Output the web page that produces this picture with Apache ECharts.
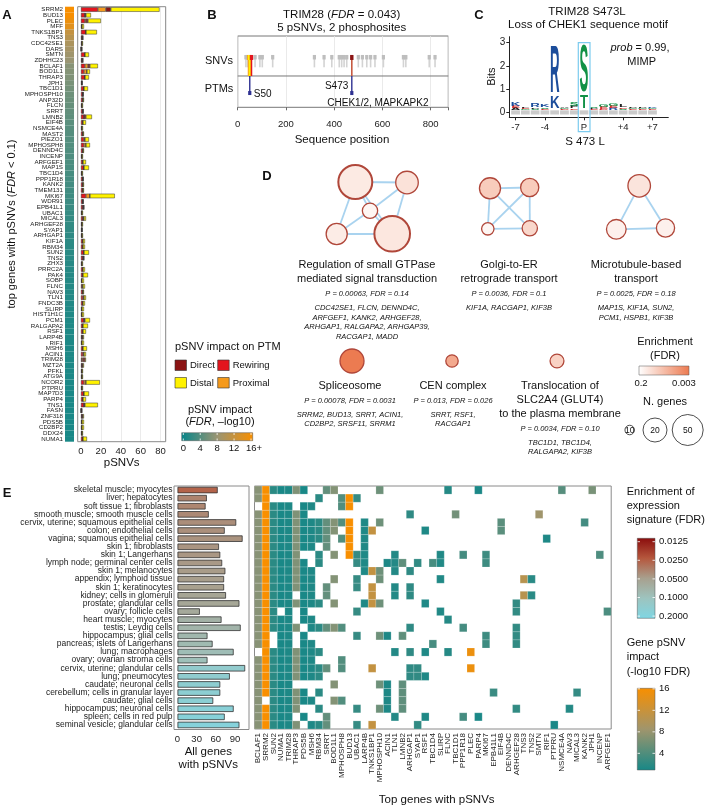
<!DOCTYPE html>
<html>
<head>
<meta charset="utf-8">
<script src="https://cdn.jsdelivr.net/npm/echarts@6/dist/echarts.min.js"></script>
<style>html,body{margin:0;padding:0;background:#fff}#chart{width:708px;height:809px}</style>
</head>
<body>
<div id="chart"></div>
<script>
const FONT = '"Liberation Sans", Arial, sans-serif';

// ---- panel A: top genes with pSNVs
const aGenes = ['SRRM2','BUD13','PLEC','MFF','TNKS1BP1','TNS3','CDC42SE1','DARS','SMTN','ZDHHC23','BCLAF1','BOD1L1','THRAP3','JPH1','TBC1D1','MPHOSPH10','ANP32D','FLCN','SRRT','LMNB2','EIF4B','NSMCE4A','MAST2','PIEZO1','MPHOSPH8','DENND4C','INCENP','ARFGEF1','MAP1S','TBC1D4','PPP1R18','KANK2','TMEM131','MKI67','WDR91','EPB41L1','UBAC1','MICAL3','ARHGEF28','SYAP1','ARHGAP1','KIF1A','RBM34','SUN2','TNS2','ZHX3','PRRC2A','PAK4','SOBP','FLNC','NAV3','TLN1','FNDC3B','SLIRP','HIST1H1C','PCM1','RALGAPA2','RSF1','LARP4B','RIF1','MSH6','ACIN1','TRIM28','MZT2A','PFKL','ATG9A','NCOR2','PTPRU','MAP7D3','PARP4','TNS1','FASN','ZNF318','PDS5B','CD2BP2','DDX24','NUMA1'];
const aRewiring = [17,4,4,1,5,1,1,0,4,1, 4,3,4,1,3,2,2,1,2,3, 2,1,2,3,3,2,1,2,3,1, 2,2,2,5,2,2,1,2,1,1, 1,2,2,3,2,1,2,2,1,1, 2,2,2,1,1,3,2,2,1,1, 2,2,1,1,1,1,3,1,3,2, 3,0,1,1,1,1,2];
const aProximal = [8,0,1,0,0,0,0,0,0,0, 3,3,0,0,0,0,0,0,0,0, 0,0,0,1,2,0,0,0,0,0, 0,0,0,4,0,0,0,0,0,0, 0,0,0,0,0,0,0,0,0,1, 0,1,0,0,0,0,0,0,0,0, 0,1,1,0,0,0,2,0,0,0, 0,0,0,0,0,0,0];
const aDirect = [5,1,2,0,0,1,0,1,0,1, 2,0,0,0,0,0,0,0,0,2, 0,0,0,0,0,0,0,0,0,0, 0,0,0,0,0,1,0,1,0,0, 0,0,0,0,1,0,0,0,0,0, 0,0,0,0,0,1,0,0,1,0, 0,0,2,1,0,0,0,0,0,0, 1,1,1,0,0,0,0];
const aDistal = [49,5,13,2,11,0,1,0,4,0, 8,3,4,0,4,0,1,1,0,6, 3,1,1,4,4,1,1,3,5,1, 0,1,1,25,0,0,1,2,1,0, 1,2,2,5,0,1,2,5,2,2, 1,2,2,2,2,5,5,3,1,2, 4,2,1,1,1,1,14,1,5,3, 13,0,1,2,2,1,4];
const aImpact = [16,16,15,14,11.5,10.5,9.5,9,8.5,8, 7,6.8,6.6,6.2,5.9,5.6,5.4,5.2,5,4.8, 4.6,4.4,4.3,4.2,4.1,4,3.9,3.8,3.6,3.5, 3.4,3.3,3.2,3,2.9,2.8,2.6,2.5,2.4,2.3, 2.2,2.1,2,1.95,1.9,1.85,1.8,1.75,1.7,1.65, 1.6,1.55,1.5,1.48,1.45,1.42,1.4,1.37,1.35,1.32, 1.3,1.28,1.26,1.24,1.22,1.2,1.18,1.16,1.14,1.12, 1.1,1.08,1.06,1.05,1.04,1.02,1];
const aTicks = [0, 20, 40, 60, 80];
const impactTicks = [0, 4, 8, 12, 16];

// ---- panel B: TRIM28 lollipop
const snvPos = [34,41,72,92,102,145,318,358,390,421,431,441,452,500,517,535,551,569,604,687,697,794,818];
const psnvPos = [45, 49, 52, 57, 473];
const psnvType = ['Proximal','Distal','Distal','Rewiring','Direct'];
const ptmPos = [50, 473];
const ptmSite = ['S50', 'S473'];
const ptmKinase = ['', 'CHEK1/2, MAPKAPK2'];

// ---- panel C: sequence logo [position, letter, bits low, bits high]
const logoData = [
  [-7,'A',0.08,0.16],[-7,'E',0.16,0.26],[-7,'K',0.26,0.40],
  [-6,'G',0.08,0.14],[-6,'E',0.14,0.19],[-6,'L',0.19,0.24],
  [-5,'S',0.08,0.15],[-5,'P',0.15,0.22],[-5,'R',0.22,0.40],
  [-4,'E',0.08,0.14],[-4,'S',0.14,0.20],[-4,'K',0.20,0.28],
  [-3,'K',0.10,0.62],[-3,'R',0.62,2.72],
  [-2,'D',0.08,0.13],[-2,'G',0.13,0.18],[-2,'A',0.18,0.23],
  [-1,'E',0.08,0.15],[-1,'P',0.15,0.25],[-1,'S',0.25,0.40],
  [0,'T',0.10,0.67],[0,'S',0.67,2.72],
  [1,'E',0.08,0.13],[1,'P',0.13,0.18],[1,'S',0.18,0.24],
  [2,'D',0.08,0.14],[2,'E',0.14,0.22],[2,'G',0.22,0.35],
  [3,'R',0.08,0.16],[3,'E',0.16,0.26],[3,'G',0.26,0.38],
  [4,'S',0.08,0.14],[4,'E',0.14,0.20],[4,'L',0.20,0.28],
  [5,'E',0.08,0.13],[5,'G',0.13,0.18],[5,'P',0.18,0.23],
  [6,'E',0.08,0.12],[6,'G',0.12,0.16],[6,'P',0.16,0.20],
  [7,'E',0.08,0.13],[7,'G',0.13,0.18],[7,'K',0.18,0.23]
];
const logoPositions = [-7,-6,-5,-4,-3,-2,-1,0,1,2,3,4,5,6,7];
const logoTickValues = [-7, -4, 0, 4, 7];
const bitsTicks = [0, 1, 2, 3];

// ---- panel D: enrichment networks
const nodeX = [355.3, 407, 370, 336.7, 392.2, 490, 529.7, 487.8, 529.8, 639.2, 616.3, 665.5, 352, 452, 557];
const nodeY = [182, 182.5, 210.8, 234, 233.8, 188.3, 187.5, 228.8, 228.3, 185.8, 229.3, 228, 361, 361, 361];
const nodeGenes = [71, 19, 14, 18, 83, 18, 16, 12, 14, 19, 17, 16, 20, 12, 13];
const nodeFdr = [0.164, 0.143, 0.19, 0.17, 0.157, 0.086, 0.086, 0.19, 0.114, 0.15, 0.18, 0.18, 0.0031, 0.026, 0.10];
const nodeLinks = [[0,1],[0,2],[0,3],[0,4],[1,2],[1,4],[2,3],[2,4],[3,4],[5,6],[5,7],[5,8],[6,7],[6,8],[7,8],[9,10],[9,11],[10,11]];
const sizeLegend = [10, 20, 50];

// ---- panel E: tissues x genes
const eTissues = ['skeletal muscle; myocytes','liver; hepatocytes','soft tissue 1; fibroblasts','smooth muscle; smooth muscle cells','cervix, uterine; squamous epithelial cells','colon; endothelial cells','vagina; squamous epithelial cells','skin 1; fibroblasts','skin 1; Langerhans','lymph node; germinal center cells','skin 1; melanocytes','appendix; lymphoid tissue','skin 1; keratinocytes','kidney; cells in glomeruli','prostate; glandular cells','ovary; follicle cells','heart muscle; myocytes','testis; Leydig cells','hippocampus; glial cells','pancreas; islets of Langerhans','lung; macrophages','ovary; ovarian stroma cells','cervix, uterine; glandular cells','lung; pneumocytes','caudate; neuronal cells','cerebellum; cells in granular layer','caudate; glial cells','hippocampus; neuronal cells','spleen; cells in red pulp','seminal vesicle; glandular cells'];
const eAllGenes = [63,46,44,49,92,74,102,65,67,70,75,73,73,76,97,35,69,99,47,55,88,47,106,82,67,67,56,88,74,97];
const eFdr = [0.028,0.038,0.039,0.04,0.042,0.043,0.044,0.045,0.046,0.047,0.048,0.049,0.05,0.055,0.057,0.06,0.07,0.074,0.078,0.082,0.088,0.092,0.13,0.135,0.14,0.145,0.15,0.16,0.165,0.17];
const eTicks = [0, 30, 60, 90];
const heatGenes = ['BCLAF1','SRRM2','SUN2','NUMA1','TRIM28','THRAP3','PDS5B','MSH6','RBM34','SRRT','BOD1L1','MPHOSPH8','BUD13','UBAC1','LARP4B','TNKS1BP1','MPHOSPH10','ACIN1','TLN1','LMNB2','ARHGAP1','SYAP1','RSF1','TBC1D4','SLIRP','FLNC','TBC1D1','PPP1R18','PLEC','PARP4','MKI67','EPB41L1','EIF4B','DENND4C','ARHGEF28','TNS3','TNS2','SMTN','RIF1','PTPRU','NSMCE4A','NAV3','MICAL3','KANK2','JPH1','INCENP','ARFGEF1'];
const heatHits = [
  [0,1,2,3,4,5,6,9,10,16,25,29,40,44],
  [0,1,8,11,12,13],
  [1,2,3,4,6,7,11,12],
  [0,1,2,3,4,5,6,20,26,37],
  [0,1,2,3,4,5,6,7,8,9,10,11,12,14,16,32,43],
  [0,1,2,3,4,5,6,7,8,9,10,12,14,15,22,32],
  [0,1,2,3,4,5,6,7,8,9,11,12,14,38],
  [0,1,2,3,4,5,6,7,9,12,14],
  [0,1,2,3,4,5,8,10,12,13,14,18,24,27,30,45],
  [0,1,2,3,4,5,6,8,13,14,17,18,19,21,23,24,30],
  [0,1,2,3,4,5,6,7,14,15,16,18,20],
  [0,1,2,3,4,5,6,7,10,13,16,24,35,36],
  [0,1,2,3,4,5,6,7,9,13,15,18,20],
  [0,1,2,3,4,6,7,9,15,18,20,35,36],
  [0,1,2,3,4,5,6,7,8,10,14,15,16,22,34],
  [0,1,2,4,6,13,24,34,46],
  [0,1,2,3,4,6,7,25],
  [0,1,2,3,4,5,7,8,9,10,11,20,27,34],
  [0,1,3,4,6,13,16,17,19,30,34],
  [0,1,3,4,6,7,23,30,34],
  [1,2,3,4,5,6,7,8,18,20,22,25,28],
  [0,1,2,3,4,5,6,7,11],
  [0,1,2,3,4,5,6,7,8,9,11,15,20,21,28],
  [0,1,2,3,4,5,6,7,8,20,21,22],
  [0,1,2,3,4,10,16,17,19],
  [0,1,2,3,4,5,6,8,17,19,31,42],
  [0,2,3,4,5,6,7,10,11,17,19],
  [0,1,2,3,4,5,8,13,16,17,19,34,41],
  [0,1,2,3,4,6,9,18,22,27,29],
  [0,1,2,3,4,5,7,8,9,13,15,21,39]
];
const enrichTicks = [0.0125, 0.025, 0.05, 0.1, 0.2];
const impactLegendTicks = [4, 8, 12, 16];

// ---- colours
const ptmColor = { Direct: '#8B1414', Rewiring: '#E3151D', Distal: '#FFF200', Proximal: '#F59A1C' };
function hex(h) { return [1, 3, 5].map(i => parseInt(h.substr(i, 2), 16)); }
function ramp(stops, t) {
  t = Math.max(0, Math.min(1, t));
  for (let i = 1; i < stops.length; i++) {
    if (t <= stops[i][0]) {
      const a = stops[i - 1], b = stops[i];
      const f = (t - a[0]) / (b[0] - a[0]);
      const ca = hex(a[1]), cb = hex(b[1]);
      return 'rgb(' + ca.map((v, k) => Math.round(v + (cb[k] - v) * f)).join(',') + ')';
    }
  }
  return stops[stops.length - 1][1];
}
const impactStops = [[0, '#06868A'], [0.5, '#9A9573'], [1, '#F88F00']];
const impactColor = v => ramp(impactStops, v / 16);
const enrichStops = [[0, '#8B0D0D'], [0.25, '#B5573D'], [0.5, '#A8A08E'], [0.75, '#9DC4BF'], [1, '#7FD6E3']];
const enrichColor = f => ramp(enrichStops, Math.log2(f / 0.0125) / 4);
const termColor = f => ramp([[0, '#FFFFFF'], [1, '#EC7A50']], Math.pow(Math.max(0, Math.log(0.2 / f) / Math.log(0.2 / 0.003)), 0.6));
function nodeDiam(n) {
  const pts = [[10, 9.5], [20, 24], [50, 31], [100, 38]];
  for (let i = 1; i < pts.length; i++) {
    if (n <= pts[i][0]) {
      const a = pts[i - 1], b = pts[i];
      return a[1] + (b[1] - a[1]) * (n - a[0]) / (b[0] - a[0]);
    }
  }
  return 38;
}
const logoColor = l => 'KRH'.includes(l) ? '#1C4D9B' : 'DE'.includes(l) ? '#D62E2E' : 'STGYCNQ'.includes(l) ? '#119146' : '#222';

// ---- graphic helpers
function tx(x, y, text, size, o) {
  o = o || {};
  const st = {
    text: text, fontSize: size, fontFamily: FONT,
    fontWeight: o.bold ? 'bold' : 'normal', fontStyle: o.italic ? 'italic' : 'normal',
    fill: o.color || '#111',
    align: o.align || 'center', textAlign: o.align || 'center',
    verticalAlign: 'middle', textVerticalAlign: 'middle'
  };
  if (o.rich) st.rich = o.rich;
  return { type: 'text', x: x, y: y, rotation: o.rot || 0, silent: true, z: 10, style: st };
}
function richIt(size) {
  return { n: { fontSize: size, fontFamily: FONT, fill: '#111' }, i: { fontSize: size, fontFamily: FONT, fontStyle: 'italic', fill: '#111' } };
}
function box(x, y, w, h, fill, stroke, lw) {
  return { type: 'rect', shape: { x: x, y: y, width: w, height: h }, silent: true, z: 1,
    style: { fill: fill || 'none', stroke: stroke || 'none', lineWidth: lw || 1 } };
}
function gradRect(x, y, w, h, stops, vertical) {
  return { type: 'rect', shape: { x: x, y: y, width: w, height: h }, silent: true, z: 5,
    style: { stroke: '#555', lineWidth: 0.5,
      fill: new echarts.graphic.LinearGradient(0, vertical ? 1 : 0, vertical ? 0 : 1, 0,
        stops.map(s => ({ offset: s[0], color: s[1] }))) } };
}
function whiteTicks(list, xs, ys, horizontal) {
  list.forEach(p => {
    if (horizontal) {
      graphics.push({ type: 'line', silent: true, z: 6, shape: { x1: p, y1: ys[0], x2: p, y2: ys[0] + 2 }, style: { stroke: '#fff', lineWidth: 0.8 } });
      graphics.push({ type: 'line', silent: true, z: 6, shape: { x1: p, y1: ys[1] - 2, x2: p, y2: ys[1] }, style: { stroke: '#fff', lineWidth: 0.8 } });
    } else {
      graphics.push({ type: 'line', silent: true, z: 6, shape: { x1: xs[0], y1: p, x2: xs[0] + 2.5, y2: p }, style: { stroke: '#fff', lineWidth: 0.8 } });
      graphics.push({ type: 'line', silent: true, z: 6, shape: { x1: xs[1] - 2.5, y1: p, x2: xs[1], y2: p }, style: { stroke: '#fff', lineWidth: 0.8 } });
    }
  });
}

const graphics = [];
// panel letters
[['A', 7, 15], ['B', 212, 15], ['C', 479, 15], ['D', 267, 176], ['E', 7, 493]].forEach(p => graphics.push(tx(p[1], p[2], p[0], 13, { bold: true })));

// A
graphics.push(box(77.7, 6.7, 88, 435, 'none', '#8A8A8A', 1));
graphics.push(tx(12, 224, '{n|top genes with pSNVs (}{i|FDR}{n| < 0.1)}', 11, { rot: Math.PI / 2, rich: richIt(11) }));
graphics.push(tx(121.7, 463, 'pSNVs', 11.5));
graphics.push(tx(175, 347, 'pSNV impact on PTM', 11, { align: 'left' }));
[['Direct', 175, 360], ['Rewiring', 217.7, 360], ['Distal', 175, 377.5], ['Proximal', 217.7, 377.5]].forEach(l => {
  graphics.push(box(l[1], l[2], 11.5, 10.5, ptmColor[l[0]], '#333', 0.6));
  graphics.push(tx(l[1] + 15, l[2] + 5.5, l[0], 9.5, { align: 'left' }));
});
graphics.push(tx(220, 410, 'pSNV impact', 11));
graphics.push(tx(220, 422, '{n|(}{i|FDR}{n|, \u2013log10)}', 11, { rich: richIt(11) }));
graphics.push(gradRect(181.7, 432.7, 71, 8, impactStops, false));
const impTickX = impactTicks.map(v => 183.3 + v / 16 * 67.7);
whiteTicks(impTickX, null, [433, 440.5], true);
impactTicks.forEach((v, i) => graphics.push(tx(impTickX[i] + (v === 16 ? 3 : 0), 448, v === 16 ? '16+' : String(v), 9.5)));

// B
graphics.push(tx(341.7, 15, '{n|TRIM28 (}{i|FDR}{n| = 0.043)}', 11.5, { rich: richIt(11.5) }));
graphics.push(tx(341.7, 28.3, '5 pSNVs, 2 phosphosites', 11.5));
graphics.push(tx(219, 61, 'SNVs', 11));
graphics.push(tx(219, 89.3, 'PTMs', 11));
graphics.push(tx(342, 140, 'Sequence position', 11.5));

// C
graphics.push(tx(587, 11.7, 'TRIM28 S473L', 11.5));
graphics.push(tx(588, 25, 'Loss of CHEK1 sequence motif', 11.5));
graphics.push(tx(491.7, 76.7, 'Bits', 11, { rot: Math.PI / 2 }));
graphics.push(tx(640, 48.3, '{i|prob}{n| = 0.99,}', 11, { rich: richIt(11) }));
graphics.push(tx(641.7, 61.7, 'MIMP', 11));
graphics.push(tx(585, 141.7, 'S 473 L', 11.5));
graphics.push(Object.assign(box(578.3, 42.7, 11.7, 89, 'none', '#7CCBEF', 1.2), { z: 20 }));

// D
const dTexts = [
  [367, ['Regulation of small GTPase', 'mediated signal transduction'], 'P = 0.00063, FDR = 0.14', ['CDC42SE1, FLCN, DENND4C,', 'ARFGEF1, KANK2, ARHGEF28,', 'ARHGAP1, RALGAPA2, ARHGAP39,', 'RACGAP1, MADD']],
  [509, ['Golgi-to-ER', 'retrograde transport'], 'P = 0.0036, FDR = 0.1', ['KIF1A, RACGAP1, KIF3B']],
  [636, ['Microtubule-based', 'transport'], 'P = 0.0025, FDR = 0.18', ['MAP1S, KIF1A, SUN2,', 'PCM1, HSPB1, KIF3B']]
];
dTexts.forEach(d => {
  graphics.push(tx(d[0], 265, d[1][0], 11));
  graphics.push(tx(d[0], 279, d[1][1], 11));
  graphics.push(tx(d[0], 294, d[2], 7.5, { italic: true }));
  d[3].forEach((g, i) => graphics.push(tx(d[0], 308 + i * 9.6, g, 7.5, { italic: true })));
});
graphics.push(tx(350, 386, 'Spliceosome', 11));
graphics.push(tx(350, 400.7, 'P = 0.00078, FDR = 0.0031', 7.5, { italic: true }));
graphics.push(tx(350, 415, 'SRRM2, BUD13, SRRT, ACIN1,', 7.5, { italic: true }));
graphics.push(tx(350, 424.3, 'CD2BP2, SRSF11, SRRM1', 7.5, { italic: true }));
graphics.push(tx(453, 386, 'CEN complex', 11));
graphics.push(tx(453, 400.7, 'P = 0.013, FDR = 0.026', 7.5, { italic: true }));
graphics.push(tx(453, 415, 'SRRT, RSF1,', 7.5, { italic: true }));
graphics.push(tx(453, 424.3, 'RACGAP1', 7.5, { italic: true }));
graphics.push(tx(560, 386, 'Translocation of', 11));
graphics.push(tx(560, 400, 'SLC2A4 (GLUT4)', 11));
graphics.push(tx(560, 414, 'to the plasma membrane', 11));
graphics.push(tx(560, 429, 'P = 0.0034, FDR = 0.10', 7.5, { italic: true }));
graphics.push(tx(560, 442.7, 'TBC1D1, TBC1D4,', 7.5, { italic: true }));
graphics.push(tx(560, 452, 'RALGAPA2, KIF3B', 7.5, { italic: true }));
graphics.push(tx(665, 342, 'Enrichment', 11));
graphics.push(tx(665, 356, '(FDR)', 11));
graphics.push(gradRect(639, 366, 50, 9, [[0, '#FFFFFF'], [1, '#EC7A50']], false));
graphics.push(tx(641, 383.5, '0.2', 9.5));
graphics.push(tx(684, 383.5, '0.003', 9.5));
graphics.push(tx(665, 402, 'N. genes', 11));
const sizeLegendX = [629.7, 655, 687.7];
sizeLegend.forEach((n, i) => {
  graphics.push({ type: 'circle', silent: true, z: 5, shape: { cx: sizeLegendX[i], cy: 430, r: nodeDiam(n) / 2 }, style: { fill: '#fff', stroke: '#222', lineWidth: 0.8 } });
  graphics.push(tx(sizeLegendX[i], 430.5, String(n), 8.5));
});

// E
graphics.push(box(174, 486, 75, 243.5, 'none', '#8A8A8A', 1));
graphics.push(tx(208.3, 752.3, 'All genes', 11.5));
graphics.push(tx(208.3, 765, 'with pSNVs', 11.5));
graphics.push(tx(436.7, 800, 'Top genes with pSNVs', 11.5));
graphics.push(tx(626.7, 491.7, 'Enrichment of', 11, { align: 'left' }));
graphics.push(tx(626.7, 506, 'expression', 11, { align: 'left' }));
graphics.push(tx(626.7, 520, 'signature (FDR)', 11, { align: 'left' }));
graphics.push(gradRect(637.3, 538.3, 17.7, 80, enrichStops.map(s => [1 - s[0], s[1]]).reverse(), true));
const enrichTickY = enrichTicks.map((f, i) => 541.7 + Math.log2(f / 0.0125) * 18.6);
whiteTicks(enrichTickY, [637.5, 655], null, false);
enrichTicks.forEach((f, i) => graphics.push(tx(659, enrichTickY[i], f.toFixed(4), 9.5, { align: 'left' })));
graphics.push(tx(626.7, 643.3, 'Gene pSNV', 11, { align: 'left' }));
graphics.push(tx(626.7, 657.3, 'impact', 11, { align: 'left' }));
graphics.push(tx(626.7, 671.7, '(-log10 FDR)', 11, { align: 'left' }));
const impLo = 0.9, impHi = 16.1;
graphics.push(gradRect(637.3, 688.3, 17.7, 81.7, [[0, impactColor(impLo)], [0.5, impactColor((impLo + impHi) / 2)], [1, impactColor(impHi)]], true));
const impLegY = impactLegendTicks.map(v => 770 - (v - impLo) / (impHi - impLo) * 81.7);
whiteTicks(impLegY, [637.5, 655], null, false);
impactLegendTicks.forEach((v, i) => graphics.push(tx(659, impLegY[i], String(v), 9.5, { align: 'left' })));

// ---- series data
const heatData = [];
heatHits.forEach((cols, r) => cols.forEach(c => heatData.push([c, r, aImpact[aGenes.indexOf(heatGenes[c])]])));

const labelStyle = { fontFamily: FONT, color: '#222' };
const tickStyle = { lineStyle: { color: '#444', width: 0.8 } };

const option = {
  animation: false,
  backgroundColor: '#fff',
  textStyle: { fontFamily: FONT },
  grid: [
    { left: 65, width: 9, top: 6.7, height: 435 },
    { left: 81, width: 84.7, top: 6.7, height: 435 },
    { left: 237.7, width: 210.6, top: 36, height: 71.3, show: true, borderColor: '#777', borderWidth: 1 },
    { left: 509.3, width: 159, top: 36.7, height: 80.6 },
    { left: 177.5, width: 71.5, top: 486, height: 243 },
    { left: 254.5, width: 356.7, top: 486, height: 243, show: true, borderColor: '#8A8A8A', borderWidth: 1 },
    { left: 0, width: 708, top: 0, height: 809 }
  ],
  xAxis: [
    { gridIndex: 0, type: 'value', min: 0, max: 1, show: false },
    { gridIndex: 1, type: 'value', min: 0, max: 85.2, interval: 20,
      axisLine: { show: false }, axisTick: Object.assign({ length: 3 }, tickStyle),
      axisLabel: Object.assign({ fontSize: 9.5, margin: 5, formatter: v => aTicks.includes(v) ? String(v) : '' }, labelStyle),
      splitLine: { show: true, lineStyle: { color: '#E6E6E6', width: 0.8 } } },
    { gridIndex: 2, type: 'value', min: 0, max: 873, interval: 200,
      axisLine: { show: false }, axisTick: Object.assign({ length: 3 }, tickStyle),
      axisLabel: Object.assign({ fontSize: 9.5, margin: 12, formatter: v => v % 200 === 0 ? String(v) : '' }, labelStyle),
      splitLine: { show: true, lineStyle: { color: '#E4E4E4', width: 0.8 } } },
    { gridIndex: 3, type: 'value', min: -7.64, max: 8.62,
      axisLine: { show: true, onZero: false, lineStyle: { color: '#222', width: 1 } },
      axisTick: { show: true, length: 3, customValues: logoTickValues, lineStyle: { color: '#222' } },
      axisLabel: Object.assign({ fontSize: 9.5, margin: 5, customValues: logoTickValues, formatter: v => v === 0 ? 'P' : (v > 0 ? '+' + v : String(v)) }, labelStyle),
      splitLine: { show: false } },
    { gridIndex: 4, type: 'value', min: 0, max: 112, interval: 30,
      axisLine: { show: false }, axisTick: Object.assign({ length: 3 }, tickStyle),
      axisLabel: Object.assign({ fontSize: 9.5, margin: 5, formatter: v => eTicks.includes(v) ? String(v) : '' }, labelStyle),
      splitLine: { show: false } },
    { gridIndex: 5, type: 'category', data: heatGenes, boundaryGap: true,
      axisLine: { show: false }, axisTick: Object.assign({ length: 3, alignWithLabel: true, interval: 0 }, tickStyle),
      axisLabel: Object.assign({ fontSize: 8, rotate: 90, interval: 0, margin: 4 }, labelStyle) },
    { gridIndex: 6, type: 'value', min: 0, max: 708, show: false }
  ],
  yAxis: [
    { gridIndex: 0, type: 'category', data: aGenes, inverse: true,
      axisLine: { show: false }, axisTick: { show: false },
      axisLabel: Object.assign({ fontSize: 6.2, interval: 0, margin: 2 }, labelStyle) },
    { gridIndex: 1, type: 'category', data: aGenes, inverse: true, show: false },
    { gridIndex: 2, type: 'value', min: 0, max: 1, show: false },
    { gridIndex: 3, type: 'value', min: -0.22, max: 3.26,
      axisLine: { show: true, onZero: false, lineStyle: { color: '#222', width: 1 } },
      axisTick: { show: true, length: 3, customValues: bitsTicks, lineStyle: { color: '#222' } },
      axisLabel: Object.assign({ fontSize: 10, margin: 4, customValues: bitsTicks }, labelStyle),
      splitLine: { show: false } },
    { gridIndex: 4, type: 'category', data: eTissues, inverse: true,
      axisLine: { show: false }, axisTick: Object.assign({ length: 3, alignWithLabel: true, interval: 0 }, tickStyle),
      axisLabel: Object.assign({ fontSize: 8.5, interval: 0, margin: 5 }, labelStyle) },
    { gridIndex: 5, type: 'category', data: eTissues, inverse: true,
      axisLine: { show: false }, axisTick: Object.assign({ length: 3, alignWithLabel: true, interval: 0 }, tickStyle),
      axisLabel: { show: false } },
    { gridIndex: 6, type: 'value', min: 0, max: 809, inverse: true, show: false }
  ],
  graphic: { elements: graphics },
  series: [
    // A colour strip
    { type: 'bar', xAxisIndex: 0, yAxisIndex: 0, barWidth: '100%', silent: true,
      data: aImpact.map(v => ({ value: 1, itemStyle: { color: impactColor(v) } })) },
    // A stacked bars
    ...[['Rewiring', aRewiring], ['Proximal', aProximal], ['Direct', aDirect], ['Distal', aDistal]].map(s => ({
      type: 'bar', name: s[0], stack: 'ptm', xAxisIndex: 1, yAxisIndex: 1, barWidth: '80%', silent: true,
      itemStyle: { color: ptmColor[s[0]], borderColor: '#333', borderWidth: 0.5 },
      data: s[1]
    })),
    // B divider
    { type: 'line', xAxisIndex: 2, yAxisIndex: 2, silent: true, symbol: 'none',
      lineStyle: { color: '#777', width: 1 }, data: [[0, 0.439], [873, 0.439]] },
    // B SNVs
    { type: 'custom', xAxisIndex: 2, yAxisIndex: 2, silent: true,
      data: snvPos.map(p => [p, 0.72]),
      renderItem: (params, api) => {
        const t = api.coord([api.value(0), 0.72]), b = api.coord([api.value(0), 0.56]);
        return { type: 'group', children: [
          { type: 'line', shape: { x1: t[0], y1: t[1], x2: b[0], y2: b[1] }, style: { stroke: '#D3D3D3', lineWidth: 1.6 } },
          { type: 'rect', shape: { x: t[0] - 1.6, y: t[1] - 1, width: 3.2, height: 4.5 }, style: { fill: '#BEBEBE' } }
        ] };
      } },
    // B pSNVs
    { type: 'custom', xAxisIndex: 2, yAxisIndex: 2, silent: true, z: 4,
      data: psnvPos.map(p => [p, 0.72]),
      renderItem: (params, api) => {
        const c = ptmColor[psnvType[params.dataIndex]];
        const t = api.coord([api.value(0), 0.72]), b = api.coord([api.value(0), 0.439]);
        return { type: 'group', children: [
          { type: 'line', shape: { x1: t[0], y1: t[1], x2: b[0], y2: b[1] }, style: { stroke: psnvType[params.dataIndex] === 'Direct' ? '#C65A42' : c, lineWidth: 1.6 } },
          { type: 'rect', shape: { x: t[0] - 1.7, y: t[1] - 1, width: 3.4, height: 5 }, style: { fill: c } }
        ] };
      } },
    // B PTM sites
    { type: 'custom', xAxisIndex: 2, yAxisIndex: 2, silent: true, z: 5,
      data: ptmPos.map(p => [p, 0.2]),
      renderItem: (params, api) => {
        const i = params.dataIndex;
        const t = api.coord([api.value(0), 0.439]), b = api.coord([api.value(0), 0.2]);
        const left = ptmKinase[i] !== '';
        const ch = [
          { type: 'line', shape: { x1: t[0], y1: t[1], x2: b[0], y2: b[1] }, style: { stroke: '#2E3192', lineWidth: 1.4 } },
          { type: 'rect', shape: { x: b[0] - 1.6, y: b[1] - 2, width: 3.2, height: 4 }, style: { fill: '#2E3192' } },
          { type: 'text', x: left ? b[0] - 3.5 : b[0] + 4, y: left ? b[1] - 7 : b[1] + 1.2,
            style: { text: ptmSite[i], fontSize: 10, fontFamily: FONT, fill: '#111', align: left ? 'right' : 'left', textAlign: left ? 'right' : 'left', verticalAlign: 'middle', textVerticalAlign: 'middle' } }
        ];
        if (left) ch.push({ type: 'text', x: b[0] - 24.5, y: b[1] + 10.7,
          style: { text: ptmKinase[i], fontSize: 10, fontFamily: FONT, fill: '#111', align: 'left', textAlign: 'left', verticalAlign: 'middle', textVerticalAlign: 'middle' } });
        return { type: 'group', children: ch };
      } },
    // C grey base per position
    { type: 'custom', xAxisIndex: 3, yAxisIndex: 3, silent: true,
      data: logoPositions.map(p => [p, 0]),
      renderItem: (params, api) => {
        const a = api.coord([api.value(0) - 0.45, 0.08]), b = api.coord([api.value(0) + 0.45, -0.1]);
        return { type: 'rect', shape: { x: a[0], y: a[1], width: b[0] - a[0], height: b[1] - a[1] }, style: { fill: '#CBCBCB' } };
      } },
    // C letters
    { type: 'custom', xAxisIndex: 3, yAxisIndex: 3, silent: true, z: 4,
      data: logoData.map(d => [d[0], d[2], d[3]]),
      renderItem: (params, api) => {
        const L = logoData[params.dataIndex][1];
        const a = api.coord([api.value(0) - 0.46, api.value(2)]), b = api.coord([api.value(0) + 0.46, api.value(1)]);
        const w = b[0] - a[0], h = b[1] - a[1], fs = 40;
        return { type: 'text', x: (a[0] + b[0]) / 2, y: (a[1] + b[1]) / 2,
          scaleX: w / (fs * 0.68), scaleY: h / (fs * 0.72),
          style: { text: L, fontSize: fs, fontFamily: FONT, fontWeight: 'bold', fill: logoColor(L),
            align: 'center', textAlign: 'center', verticalAlign: 'middle', textVerticalAlign: 'middle' } };
      } },
    // D networks
    { type: 'graph', coordinateSystem: 'cartesian2d', xAxisIndex: 6, yAxisIndex: 6, layout: 'none', silent: true, z: 3,
      data: nodeX.map((x, i) => ({ value: [x, nodeY[i]], symbolSize: nodeDiam(nodeGenes[i]),
        itemStyle: { color: termColor(nodeFdr[i]), borderColor: '#B0473A', borderWidth: nodeGenes[i] > 50 ? 2 : 1.3 } })),
      links: nodeLinks.map(l => ({ source: l[0], target: l[1] })),
      lineStyle: { color: '#A9D3EF', width: 1.8, opacity: 1, curveness: 0 },
      label: { show: false } },
    // E all genes bars
    { type: 'bar', xAxisIndex: 4, yAxisIndex: 4, barWidth: '80%', silent: true,
      data: eAllGenes.map((v, i) => ({ value: v, itemStyle: { color: enrichColor(eFdr[i]), borderColor: '#333', borderWidth: 0.8 } })) },
    // E heatmap
    { type: 'custom', xAxisIndex: 5, yAxisIndex: 5, silent: true,
      data: heatData,
      renderItem: (params, api) => {
        const c = api.coord([api.value(0), api.value(1)]), s = api.size([1, 1]);
        return { type: 'rect', shape: { x: c[0] - s[0] / 2, y: c[1] - s[1] / 2, width: s[0], height: s[1] },
          style: { fill: impactColor(api.value(2)), stroke: 'rgba(255,255,255,0.35)', lineWidth: 0.5 } };
      } }
  ]
};

const chart = echarts.init(document.getElementById('chart'));
chart.setOption(option);
window.addEventListener('resize', () => chart.resize());
</script>
</body>
</html>
